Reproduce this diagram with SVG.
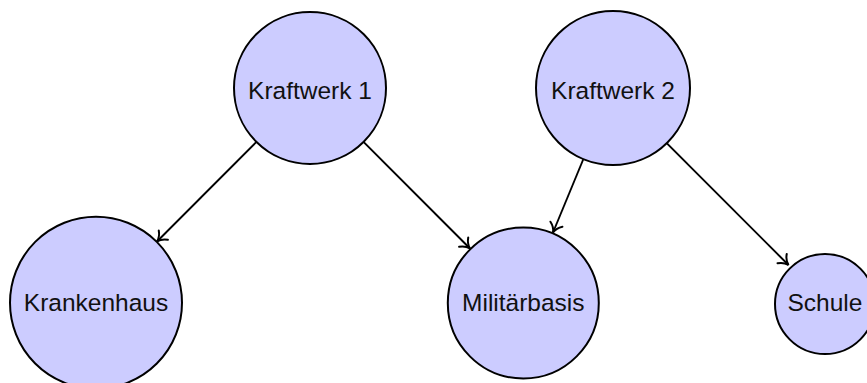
<svg xmlns="http://www.w3.org/2000/svg" width="867" height="383" viewBox="0 0 867 383">
<defs>
<style>
.node circle{fill:#ccccff;stroke:#000;stroke-width:2}
.node text{font-family:"Liberation Sans",Arial,sans-serif;font-size:24.5px;fill:#111;text-anchor:middle}
.edge{stroke:#000;stroke-width:1.9;fill:none;marker-end:url(#arr)}
</style>
<marker id="arr" markerUnits="userSpaceOnUse" markerWidth="24" markerHeight="24" viewBox="-12 -12 24 24" refX="0" refY="0" orient="auto">
<path d="M -9,-6.5 C -6.5,-2.8 -3,-0.7 0,0 C -3,0.7 -6.5,2.8 -9,6.5" fill="none" stroke="#000" stroke-width="2" stroke-linecap="round"/>
</marker>
</defs>
<rect width="867" height="383" fill="#fff"/>
<g id="connectors">
<line class="edge" x1="256.4" y1="141.9" x2="157" y2="241.5"/>
<line class="edge" x1="363.5" y1="141.9" x2="470" y2="248.5"/>
<line class="edge" x1="583.4" y1="159" x2="553" y2="232.5"/>
<line class="edge" x1="666.7" y1="143.2" x2="788.5" y2="265"/>
</g>
<g id="kraftwerk1" class="node"><circle cx="310" cy="88" r="76"/><text x="310" y="99">Kraftwerk 1</text></g>
<g id="kraftwerk2" class="node"><circle cx="613" cy="88" r="77"/><text x="613" y="99">Kraftwerk 2</text></g>
<g id="krankenhaus" class="node"><circle cx="96" cy="302.7" r="86"/><text x="96" y="311">Krankenhaus</text></g>
<g id="militaerbasis" class="node"><circle cx="523.3" cy="303" r="75.5"/><text x="523.3" y="311">Militärbasis</text></g>
<g id="schule" class="node"><circle cx="825" cy="304" r="50"/><text x="825" y="311">Schule</text></g>
</svg>
